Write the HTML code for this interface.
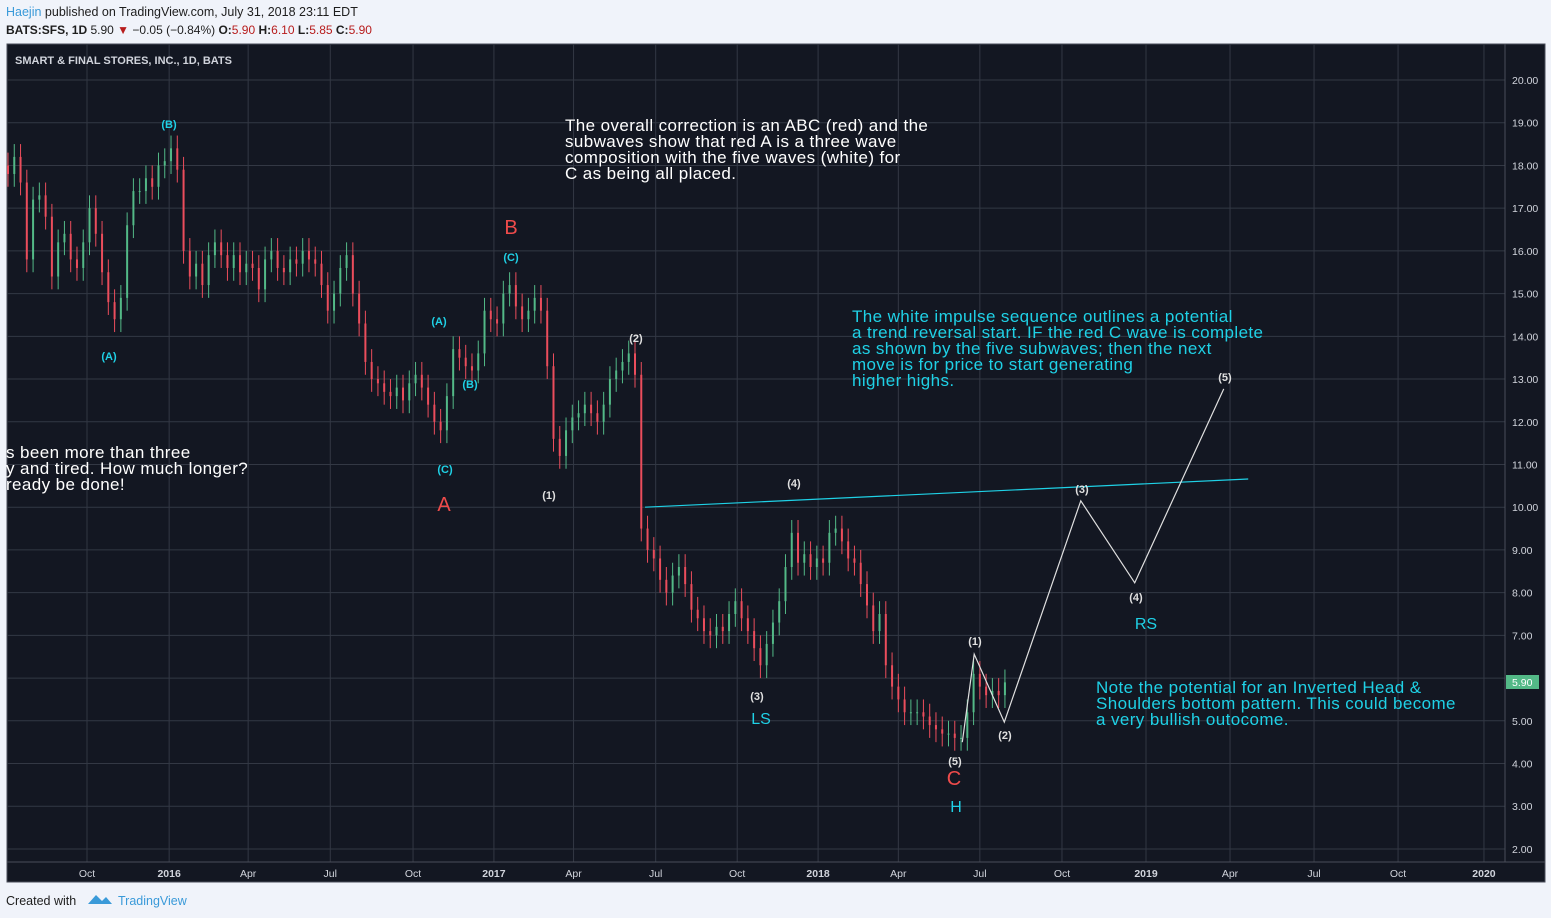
<!DOCTYPE html>
<html><head><meta charset="utf-8"><style>
html,body{margin:0;padding:0;background:#f0f3fa;width:1551px;height:918px;overflow:hidden;font-family:"Liberation Sans",sans-serif}
svg{position:absolute;left:0;top:0}
</style></head><body>
<svg id="chart" width="1551" height="918" xmlns="http://www.w3.org/2000/svg">
<rect x="0" y="0" width="1551" height="918" fill="#f0f3fa"/>
<text x="6" y="16" font-size="12.5" fill="#1e1e1e"><tspan fill="#3a9ad9">Haejin</tspan> published on TradingView.com, July 31, 2018 23:11 EDT</text>
<text x="6" y="34" font-size="12" fill="#1e1e1e"><tspan font-weight="bold">BATS:SFS, 1D</tspan> 5.90 <tspan fill="#b71c1c">▼</tspan> −0.05 (−0.84%) <tspan font-weight="bold">O:</tspan><tspan fill="#b71c1c">5.90</tspan> <tspan font-weight="bold">H:</tspan><tspan fill="#b71c1c">6.10</tspan> <tspan font-weight="bold">L:</tspan><tspan fill="#b71c1c">5.85</tspan> <tspan font-weight="bold">C:</tspan><tspan fill="#b71c1c">5.90</tspan></text>
<rect x="7" y="44" width="1538" height="838" fill="#131722" stroke="#4a4e59"/>
<g id="grid"></g>
<line x1="1505" y1="44" x2="1505" y2="862" stroke="#4a4e59"/>
<line x1="7" y1="862" x2="1545" y2="862" stroke="#4a4e59"/>
<g id="yticks"></g><g id="xticks"></g>
<g id="candles"></g>
<g id="overlay"></g>
<text x="15" y="64" font-size="11" font-weight="bold" fill="#d1d4dc">SMART &amp; FINAL STORES, INC., 1D, BATS</text>
<g font-size="17" letter-spacing="0.4" fill="#ffffff">
<text x="565" y="131">The overall correction is an ABC (red) and the</text>
<text x="565" y="147">subwaves show that red A is a three wave</text>
<text x="565" y="163">composition with the five waves (white) for</text>
<text x="565" y="179">C as being all placed.</text></g>
<g font-size="17" letter-spacing="0.4" fill="#ffffff">
<text x="6" y="458">s been more than three</text>
<text x="6" y="474">y and tired. How much longer?</text>
<text x="6" y="490">ready be done!</text></g>
<g font-size="17" letter-spacing="0.4" fill="#1fd1e6">
<text x="852" y="322">The white impulse sequence outlines a potential</text>
<text x="852" y="338">a trend reversal start. IF the red C wave is complete</text>
<text x="852" y="354">as shown by the five subwaves; then the next</text>
<text x="852" y="370">move is for price to start generating</text>
<text x="852" y="386">higher highs.</text></g>
<g font-size="17" letter-spacing="0.4" fill="#1fd1e6">
<text x="1096" y="693">Note the potential for an Inverted Head &amp;</text>
<text x="1096" y="709">Shoulders bottom pattern. This could become</text>
<text x="1096" y="725">a very bullish outocome.</text></g>
<g font-size="20" fill="#ef4b4b" text-anchor="middle">
<text x="511" y="234">B</text>
<text x="444" y="511">A</text>
<text x="954" y="785">C</text></g>
<g font-size="16" fill="#1fd1e6" text-anchor="middle">
<text x="761" y="724">LS</text>
<text x="1146" y="629">RS</text>
<text x="956" y="812">H</text></g>
<g font-size="11" font-weight="bold" fill="#1fd1e6" text-anchor="middle">
<text x="169" y="128">(B)</text>
<text x="109" y="360">(A)</text>
<text x="439" y="325">(A)</text>
<text x="470" y="388">(B)</text>
<text x="511" y="261">(C)</text>
<text x="445" y="473">(C)</text></g>
<g font-size="11" font-weight="bold" fill="#e0e0e0" text-anchor="middle">
<text x="549" y="499">(1)</text>
<text x="636" y="342">(2)</text>
<text x="757" y="700">(3)</text>
<text x="794" y="487">(4)</text>
<text x="955" y="765">(5)</text>
<text x="975" y="645">(1)</text>
<text x="1005" y="739">(2)</text>
<text x="1082" y="493">(3)</text>
<text x="1136" y="601">(4)</text>
<text x="1225" y="381">(5)</text></g>
<rect x="1506" y="675" width="33" height="14" fill="#53b987"/>
<text x="1512" y="686" font-size="10.5" fill="#ffffff">5.90</text>
<text x="6" y="905" font-size="12.5" fill="#1e1e1e">Created with</text>
<path d="M88 904 l8 -9 l6 6 l4 -4 l6 7 z" fill="#3a9ad9"/>
<text x="118" y="905" font-size="12.5" fill="#3a9ad9">TradingView</text>
</svg>
<script>
const closes=[17.8,18.2,17.6,15.8,17.2,17.3,16.8,15.4,16.2,16.4,15.8,15.6,16.2,17.0,16.4,15.5,14.8,14.4,14.9,16.6,17.4,17.4,17.7,17.5,18.0,18.1,18.4,17.9,16.0,15.4,15.7,15.2,15.9,16.2,15.9,15.6,15.9,15.5,15.7,15.6,15.1,15.8,16.0,15.6,15.5,15.8,15.7,16.0,15.8,15.7,15.2,14.6,15.0,15.6,15.9,15.0,14.3,13.4,13.0,12.9,12.7,12.6,12.8,12.5,12.9,13.1,12.8,12.4,12.0,11.8,12.6,13.7,13.5,13.3,13.2,13.6,14.6,14.4,14.3,15.0,15.2,14.7,14.4,14.6,14.9,14.6,13.3,11.6,11.2,11.8,12.1,12.2,12.4,12.2,12.0,12.4,13.0,13.2,13.4,13.6,13.1,9.5,9.0,8.8,8.3,8.0,8.4,8.6,8.2,7.6,7.4,7.1,7.0,7.2,7.1,7.5,7.8,7.4,7.1,6.7,6.3,6.8,7.3,7.8,8.6,9.4,8.7,8.9,8.6,8.8,8.7,9.4,9.5,9.2,8.8,8.7,8.2,7.7,7.1,7.5,6.3,5.8,5.5,5.2,5.2,5.2,5.1,4.9,4.8,4.7,4.7,4.6,4.6,5.2,6.1,5.8,5.6,5.7,5.6,5.9];
const waveWeeks=[152.2,154.1,158.9,171.1,179.7,193.9];
const wavePrices=[4.5,6.56,4.97,10.15,8.23,12.77];
const trendWeeks=[101.6,197.8];
const trendPrices=[10.0,10.66];
const priceTicks=[20,19,18,17,16,15,14,13,12,11,10,9,8,7,6,5,4,3,2];
const timeLabels=["Oct","2016","Apr","Jul","Oct","2017","Apr","Jul","Oct","2018","Apr","Jul","Oct","2019","Apr","Jul","Oct","2020"];
const timeWeeks=[12.6,25.7,38.3,51.4,64.6,77.5,90.2,103.3,116.3,129.2,142.0,155.0,168.1,181.5,194.9,208.3,221.7,235.4];
const y=p=>80+(20-p)*42.72;
const x=w=>8+w*6.27;
const NS="http://www.w3.org/2000/svg";
function mk(tag,attrs,parent){const e=document.createElementNS(NS,tag);for(const k in attrs)e.setAttribute(k,attrs[k]);document.getElementById(parent).appendChild(e);return e;}
priceTicks.forEach(p=>{
 const l=mk('line',{x1:7,x2:1505,y1:y(p),y2:y(p),stroke:'#333844'},'grid');
 
 
 const t=mk('text',{x:1512,y:y(p)+4,'font-size':10.5,fill:'#d1d4dc'},'yticks');
 t.textContent=p.toFixed(2);
 
 
});
timeLabels.forEach((s,i)=>{
 const l=mk('line',{x1:x(timeWeeks[i]),x2:x(timeWeeks[i]),y1:44,y2:862,stroke:'#333844'},'grid');
 
 
 const t=mk('text',{x:x(timeWeeks[i]),y:877,'font-size':10.5,'font-weight':(/^20/.test(s)?'bold':'normal'),fill:'#d1d4dc','text-anchor':'middle'},'xticks');
 t.textContent=s;
 
 
});
closes.forEach((c,i)=>{
 const o=i?closes[i-1]:c+0.2;
 const up=c>=o, col=up?'#53b987':'#eb4d5c';
 const hi=Math.max(o,c)+0.3, lo=Math.min(o,c)-0.3;
 const cx=x(i);
 const w=mk('line',{x1:cx,x2:cx,y1:y(hi),y2:y(lo),stroke:col,'stroke-width':1},'candles');
 
 
 const b=mk('rect',{x:cx-1,width:2,y:y(Math.max(o,c)),height:Math.max(1,Math.abs(y(o)-y(c))),fill:col},'candles');
 
 
});
const tl=mk('line',{x1:x(trendWeeks[0]),y1:y(trendPrices[0]),x2:x(trendWeeks[1]),y2:y(trendPrices[1]),stroke:'#1fd1e6','stroke-width':1.2},'overlay');


const pl=mk('polyline',{points:waveWeeks.map((w,i)=>x(w)+','+y(wavePrices[i])).join(' '),fill:'none',stroke:'#e0e0e0','stroke-width':1.2},'overlay');


</script>
</body></html>
